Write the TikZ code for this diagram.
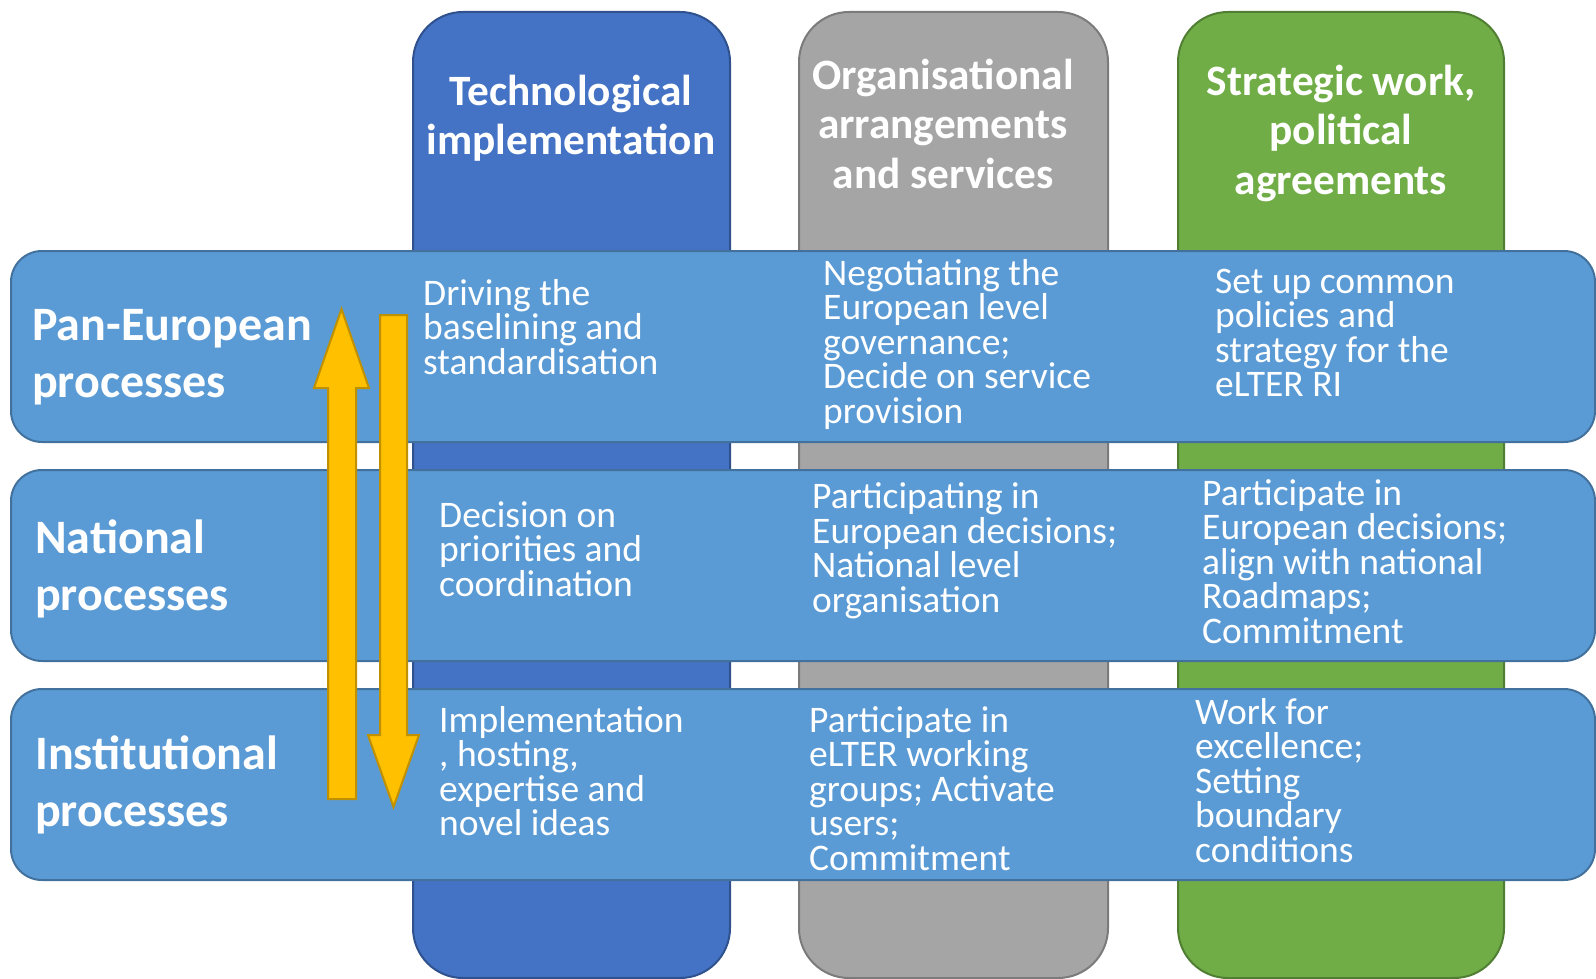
\documentclass[tikz,border=0pt]{standalone}
\usepackage{fontspec}
\setmainfont{Carlito}
\usepackage{tikz}
\definecolor{techblue}{HTML}{4472C4}
\definecolor{techline}{HTML}{2F528F}
\definecolor{orggray}{HTML}{A5A5A5}
\definecolor{orgline}{HTML}{7B7B7B}
\definecolor{stratgreen}{HTML}{70AD47}
\definecolor{stratline}{HTML}{507E32}
\definecolor{levelblue}{HTML}{5B9BD5}
\definecolor{levelline}{HTML}{41719C}
\definecolor{arrowfill}{HTML}{FFC000}
\definecolor{arrowline}{HTML}{BF9000}
\tikzset{
    column/.style = {line width = 2, rounded corners = 50},
    level/.style = {fill = levelblue, draw = levelline, line width = 2, rounded corners = 31},
    flow/.style = {fill = arrowfill, draw = arrowline, line width = 2},
    head/.style = {text = white, align = center, inner sep = 0, anchor = base,
        font = \bfseries\fontsize{43.3}{49.5}\selectfont},
    lab/.style = {text = white, align = left, inner sep = 0, anchor = base west,
        font = \bfseries\fontsize{48}{56.5}\selectfont},
    cell/.style = {text = white, align = left, inner sep = 0, anchor = base west,
        font = \fontsize{37.5}{34.5}\selectfont}
}

\begin{document}
\begin{tikzpicture}[x = 1pt, y = -1pt]
    \useasboundingbox (0, 0) rectangle (1596, 979);

    \draw [column, fill = techblue, draw = techline] (413, 12) rectangle (730, 978);
    \draw [column, fill = orggray, draw = orgline] (799, 12) rectangle (1108, 978);
    \draw [column, fill = stratgreen, draw = stratline] (1178, 12) rectangle (1504, 978);

    \draw [level] (11, 251) rectangle (1595, 442);
    \draw [level] (11, 470) rectangle (1595, 661);
    \draw [level] (11, 689) rectangle (1595, 880);

    \draw [flow] (328, 799) -- (328, 388) -- (314, 388) -- (341.5, 309)
        -- (369, 388) -- (356, 388) -- (356, 799) -- cycle;
    \draw [flow] (380, 315) -- (380, 735) -- (368, 735) -- (393.5, 807)
        -- (419, 735) -- (407, 735) -- (407, 315) -- cycle;

    \node [head] (tech) at (571, 155) {Technological\\implementation};
    \node [head] (org) at (943, 188) {Organisational\\arrangements\\and services};
    \node [head] (strat) at (1341, 194) {Strategic work,\\political\\agreements};

    \node [lab] (pan) at (32, 397) {Pan-European\\processes};
    \node [lab] (nat) at (35, 610) {National\\processes};
    \node [lab] (inst) at (35, 826) {Institutional\\processes};

    \node [cell] (pantech) at (423, 374) {Driving the\\baselining and\\standardisation};
    \node [cell] (panorg) at (823, 423) {Negotiating the\\European level\\governance;\\Decide on service\\provision};
    \node [cell] (panstrat) at (1215, 396.5) {Set up common\\policies and\\strategy for the\\eLTER RI};

    \node [cell] (nattech) at (439, 596) {Decision on\\priorities and\\coordination};
    \node [cell] (natorg) at (812, 612) {Participating in\\European decisions;\\National level\\organisation};
    \node [cell] (natstrat) at (1202, 643) {Participate in\\European decisions;\\align with national\\Roadmaps;\\Commitment};

    \node [cell] (insttech) at (439, 835.5) {Implementation\\, hosting,\\expertise and\\novel ideas};
    \node [cell] (instorg) at (809, 870) {Participate in\\eLTER working\\groups; Activate\\users;\\Commitment};
    \node [cell] (inststrat) at (1195, 862) {Work for\\excellence;\\Setting\\boundary\\conditions};
\end{tikzpicture}
\end{document}
